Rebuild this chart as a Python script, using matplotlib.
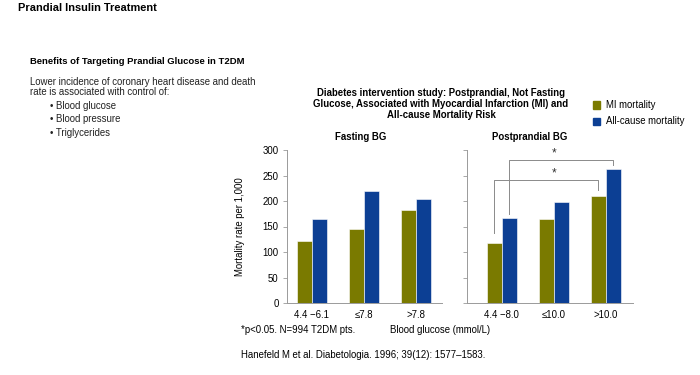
import matplotlib
matplotlib.use("Agg")
import matplotlib.pyplot as plt
import numpy as np

plt.rcParams['font.family'] = ['Liberation Sans', 'DejaVu Sans']

# data
fasting_labels = ["4.4 \u22126.1", "\u22647.8", ">7.8"]
fasting_mi = [122, 146, 182]
fasting_all = [164, 220, 204]

post_labels = ["4.4 \u22128.0", "\u226410.0", ">10.0"]
post_mi = [118, 165, 210]
post_all = [166, 199, 263]

yticks = [0, 50, 100, 150, 200, 250, 300]

MI_COLOR = "#7a7a00"
ALL_COLOR = "#0c3f94"
SPINE = "#9a9a9a"
W, H = 700, 375
BW = 0.29
FS = 6.9


def px(x, y):
    return x / W, 1 - y / H


def draw_panel(ax, labels, mi, allc, xlim, show_labels):
    x = np.arange(len(labels))
    ax.bar(x - BW / 2, mi, BW, color=MI_COLOR, edgecolor="white", linewidth=0.4)
    ax.bar(x + BW / 2, allc, BW, color=ALL_COLOR, edgecolor="white", linewidth=0.4)
    ax.set_xlim(*xlim)
    ax.set_ylim(0, 300)
    ax.set_yticks(yticks)
    ax.set_xticks(x)
    ax.set_xticklabels(labels, fontsize=FS)
    if show_labels:
        ax.set_yticklabels([str(t) for t in yticks], fontsize=FS)
    else:
        ax.set_yticklabels([])
    for s in ["top", "right"]:
        ax.spines[s].set_visible(False)
    for s in ["left", "bottom"]:
        ax.spines[s].set_color(SPINE)
        ax.spines[s].set_linewidth(0.7)
    ax.tick_params(axis="y", length=3, width=0.6, color=SPINE, pad=3)
    ax.tick_params(axis="x", length=0, pad=5)
    ax.set_facecolor("none")


fig = plt.figure(figsize=(7, 3.75), dpi=100)

ax1 = fig.add_axes([287 / W, 72 / H, 155 / W, 153 / H])
draw_panel(ax1, fasting_labels, fasting_mi, fasting_all, (-0.48, 2.5), True)
ax1.set_ylabel("Mortality rate per 1,000", fontsize=FS)
ax1.yaxis.set_label_coords((245 - 287) / 155, 0.5)

ax2 = fig.add_axes([467 / W, 72 / H, 166 / W, 153 / H])
draw_panel(ax2, post_labels, post_mi, post_all, (-0.67, 2.52), False)

# significance brackets
lc = "#8a8a8a"
ax2.plot([-BW / 2, -BW / 2, 2 - BW / 2, 2 - BW / 2], [137, 241, 241, 221],
         color=lc, lw=0.7, clip_on=False)
ax2.plot([BW / 2, BW / 2, 2 + BW / 2, 2 + BW / 2], [174, 280, 280, 270],
         color=lc, lw=0.7, clip_on=False)
ax2.text(1.0, 243, "*", ha="center", va="bottom", fontsize=8.5, color="#333333")
ax2.text(1.0, 282, "*", ha="center", va="bottom", fontsize=8.5, color="#333333")

# panel titles
fig.text(*px(361, 137), "Fasting BG", ha="center", va="center",
         fontsize=FS, fontweight="bold")
fig.text(*px(530, 137), "Postprandial BG", ha="center", va="center",
         fontsize=FS, fontweight="bold")

# chart title
fig.text(*px(441, 104),
         "Diabetes intervention study: Postprandial, Not Fasting\n"
         "Glucose, Associated with Myocardial Infarction (MI) and\n"
         "All-cause Mortality Risk",
         ha="center", va="center", fontsize=FS, fontweight="bold", linespacing=1.08)

# legend
for yy, col, lab in [(105, MI_COLOR, "MI mortality"), (121, ALL_COLOR, "All-cause mortality")]:
    fig.patches.append(plt.Rectangle(px(593, yy + 3.5), 7 / W, 7 / H, color=col,
                                     transform=fig.transFigure, figure=fig))
    fig.text(*px(606, yy), lab, ha="left", va="center", fontsize=FS)

# header texts
fig.text(*px(18, 8), "Prandial Insulin Treatment", ha="left", va="center",
         fontsize=7.9, fontweight="bold")
fig.text(*px(30, 62), "Benefits of Targeting Prandial Glucose in T2DM", ha="left",
         va="center", fontsize=6.8, fontweight="bold")
fig.text(*px(30, 87),
         "Lower incidence of coronary heart disease and death\n"
         "rate is associated with control of:",
         ha="left", va="center", fontsize=FS, color="#222222", linespacing=1.05)
for i, item in enumerate(["Blood glucose", "Blood pressure", "Triglycerides"]):
    fig.text(*px(50, 106 + i * 13.5), "\u2022 " + item, ha="left", va="center",
             fontsize=FS, color="#222222")

# footnotes
fig.text(*px(241, 330), "*p<0.05. N=994 T2DM pts.", ha="left", va="center", fontsize=FS)
fig.text(*px(390, 330), "Blood glucose (mmol/L)", ha="left", va="center", fontsize=FS)
fig.text(*px(241, 355), "Hanefeld M et al. Diabetologia. 1996; 39(12): 1577\u20131583.",
         ha="left", va="center", fontsize=FS)

fig.savefig("out.png", dpi=100)
